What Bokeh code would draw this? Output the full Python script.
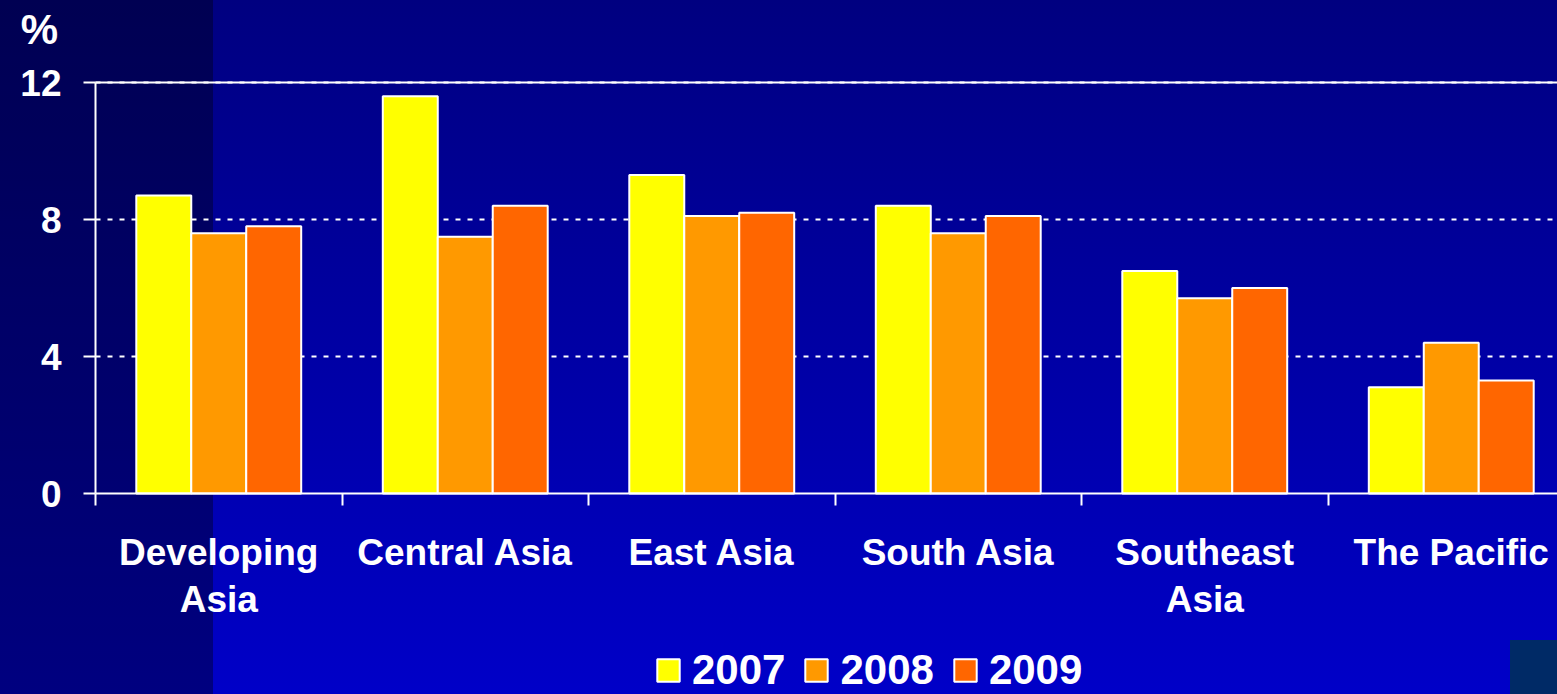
from bokeh.plotting import figure
from bokeh.models import (ColumnDataSource, Range1d, FixedTicker, Legend, LegendItem, Label)
from bokeh.transform import dodge
from bokeh.embed import file_html
from bokeh.resources import INLINE

# ---- data ----
regions = ["Developing\nAsia", "Central Asia", "East Asia", "South Asia",
           "Southeast\nAsia", "The Pacific"]
years = ["2007", "2008", "2009"]
v2007 = [8.7, 11.6, 9.3, 8.4, 6.5, 3.1]
v2008 = [7.6, 7.5, 8.1, 7.6, 5.7, 4.4]
v2009 = [7.8, 8.4, 8.2, 8.1, 6.0, 3.3]
y_ticks = [0, 4, 8, 12]
grid_ticks = [4, 8, 12]
colors = ["#FFFF00", "#FF9900", "#FF6600"]

pos = list(range(1, len(regions) + 1))
src = ColumnDataSource(dict(x=pos, v2007=v2007, v2008=v2008, v2009=v2009))

FONT = "Liberation Sans"
W, H = 1557, 694
AX_X, AX_Y0, AX_Y12 = 95, 493, 82          # pixel positions of the axes
cat_px = 246.5
px_per_unit = (AX_Y0 - AX_Y12) / 12.0
x_start = 0.5 - AX_X / cat_px
x_end = 0.5 + (W - AX_X) / cat_px
y_start = -(H - AX_Y0) / px_per_unit
y_end = AX_Y0 / px_per_unit

p = figure(width=W, height=H, output_backend="svg", toolbar_location=None,
           x_range=Range1d(x_start, x_end), y_range=Range1d(y_start, y_end),
           min_border=0)
p.outline_line_color = None
p.background_fill_alpha = 0
p.border_fill_alpha = 0
p.styles = {
    "background": "linear-gradient(#002a66,#002a66) 1510px 640px / 47px 54px no-repeat, "
                  "linear-gradient(to right, rgba(0,0,0,0.36) 213px, rgba(0,0,0,0) 213px), "
                  "linear-gradient(to bottom, #000080 0%, #0000c8 100%)"
}

# grid lines (only to the right of the value axis)
p.xgrid.grid_line_color = None
p.ygrid.grid_line_color = None
p.segment(x0=[0.5] * len(grid_ticks), x1=[x_end] * len(grid_ticks), y0=grid_ticks,
          y1=grid_ticks, line_color="white", line_width=2, line_dash="5 7")
p.segment(x0=[0.5], x1=[x_end], y0=[max(y_ticks)], y1=[max(y_ticks)],
          line_color="white", line_width=2)

bw = 0.223
renderers = []
for i, (yr, col) in enumerate(zip(years, colors)):
    r = p.vbar(x=dodge("x", (i - 1) * bw, range=p.x_range), top="v" + yr, width=bw,
               source=src, fill_color=col, line_color="white", line_width=2)
    renderers.append(r)

# y axis
ya = p.yaxis[0]
ya.fixed_location = 0.5
ya.ticker = FixedTicker(ticks=y_ticks)
ya.bounds = (0, 12)
ya.axis_line_color = "white"
ya.axis_line_width = 2
ya.major_tick_line_color = "white"
ya.major_tick_line_width = 2
ya.major_tick_out = 12
ya.major_tick_in = 0
ya.minor_tick_line_color = None
ya.major_label_text_color = "white"
ya.major_label_text_font = FONT
ya.major_label_text_font_style = "bold"
ya.major_label_text_font_size = "37px"
ya.major_label_standoff = 22

# x axis
xa = p.xaxis[0]
xa.fixed_location = 0
xa.bounds = (0.5, x_end)
xa.ticker = FixedTicker(ticks=pos, minor_ticks=[k + 0.5 for k in range(0, len(regions) + 1)])
xa.major_label_overrides = {k: lab for k, lab in zip(pos, regions)}
xa.axis_line_color = "white"
xa.axis_line_width = 2
xa.major_tick_line_color = None
xa.minor_tick_line_color = "white"
xa.minor_tick_line_width = 2
xa.minor_tick_out = 12
xa.minor_tick_in = 0
xa.major_label_text_color = "white"
xa.major_label_text_font = FONT
xa.major_label_text_font_style = "bold"
xa.major_label_text_font_size = "37px"
xa.major_label_text_line_height = 1.15
xa.major_label_standoff = 26

# "%" unit label
p.add_layout(Label(x=0.5 + (39 - AX_X) / cat_px, y=12 + (AX_Y12 - 29) / px_per_unit, text="%",
                   text_color="white", text_font=FONT, text_font_style="bold",
                   text_font_size="42px", text_align="center", text_baseline="middle"))

legend = Legend(items=[LegendItem(label=yr, renderers=[r]) for yr, r in zip(years, renderers)],
                orientation="horizontal", location=(654, 0),
                background_fill_alpha=0, border_line_color=None,
                label_text_color="white", label_text_font=FONT,
                label_text_font_style="bold", label_text_font_size="42px",
                glyph_width=28, glyph_height=28, label_height=22,
                label_standoff=10, spacing=17, padding=0, margin=0)
p.add_layout(legend, "center")

open("out.html", "w").write(file_html(p, INLINE))
